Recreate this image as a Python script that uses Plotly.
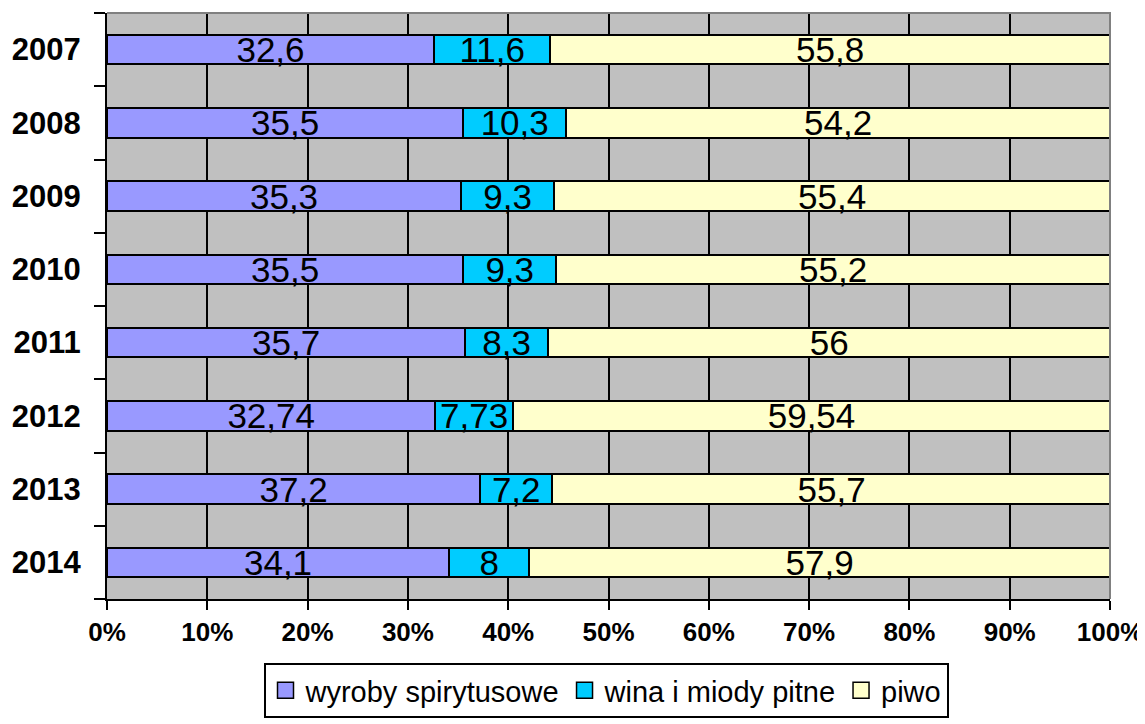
import plotly.graph_objects as go

years = ["2007", "2008", "2009", "2010", "2011", "2012", "2013", "2014"]
spirits = [32.6, 35.5, 35.3, 35.5, 35.7, 32.74, 37.2, 34.1]
wines = [11.6, 10.3, 9.3, 9.3, 8.3, 7.73, 7.2, 8]
beer = [55.8, 54.2, 55.4, 55.2, 56, 59.54, 55.7, 57.9]
series_names = ["wyroby spirytusowe", "wina i miody pitne", "piwo"]
colors = ["#9999FF", "#00CCFF", "#FFFFCC"]
xticks = [0, 10, 20, 30, 40, 50, 60, 70, 80, 90, 100]

def fmt(v):
    return ("%g" % v).replace(".", ",")

FONT = "Arial, Liberation Sans, sans-serif"
# page body has an 8px default margin, so the figure is sized to fit inside it
W, H = 1137, 716
ypos = list(range(len(years)))
fig = go.Figure()
for name, vals, col in zip(series_names, [spirits, wines, beer], colors):
    fig.add_trace(go.Bar(
        y=ypos, x=vals, orientation="h", name=name, width=0.4,
        marker=dict(color=col, line=dict(color="black", width=2)),
        text=[fmt(v) for v in vals], textposition="inside", textangle=0,
        insidetextanchor="middle", constraintext="none",
        textfont=dict(family=FONT, size=35, color="black"),
        hoverinfo="skip", showlegend=False,
    ))
# legend entries (square symbols)
for name, col in zip(series_names, colors):
    fig.add_trace(go.Scatter(
        x=[None], y=[None], mode="markers", name=name,
        marker=dict(symbol="square", size=16, color=col,
                    line=dict(color="black", width=1.5)),
        showlegend=True,
    ))

fig.update_layout(
    barmode="stack",
    width=W, height=H,
    margin=dict(l=99, r=35, t=5, b=125),
    paper_bgcolor="white", plot_bgcolor="#C0C0C0",
    font=dict(family=FONT, color="black"),
    showlegend=True,
    legend=dict(orientation="h", xref="container", yref="container",
                x=598 / W, xanchor="center", y=1 - 655 / H, yanchor="top",
                bordercolor="black", borderwidth=2, bgcolor="white",
                font=dict(size=29, family=FONT), traceorder="normal",
                itemwidth=30, tracegroupgap=0, itemsizing="trace"),
    bargap=0.6,
)
fig.update_xaxes(
    range=[0, 100], tickvals=xticks, ticktext=[f"{t}%" for t in xticks],
    showgrid=True, gridcolor="black", gridwidth=2,
    showline=True, linecolor="black", linewidth=2,
    ticks="outside", ticklen=9, tickwidth=2, tickcolor="black",
    tickfont=dict(size=26, family=FONT, weight="bold"),
    ticklabelstandoff=0, zeroline=False, automargin=False,
)
fig.update_yaxes(
    range=[len(years) - 0.5, -0.5], tickvals=ypos, ticktext=years,
    showgrid=False, zeroline=False,
    showline=True, linecolor="black", linewidth=2,
    ticks="", tickfont=dict(size=31, family=FONT, weight="bold"),
    ticklabelstandoff=18, automargin=False,
    minor=dict(tick0=-0.5, dtick=1, ticks="outside", ticklen=11, tickwidth=2,
               tickcolor="black", showgrid=False),
)
fig.add_shape(type="path", xref="paper", yref="paper",
              path="M 0,1 L 1,1 L 1,0", line=dict(color="#808080", width=2), layer="above")
fig.write_html("out.html")
